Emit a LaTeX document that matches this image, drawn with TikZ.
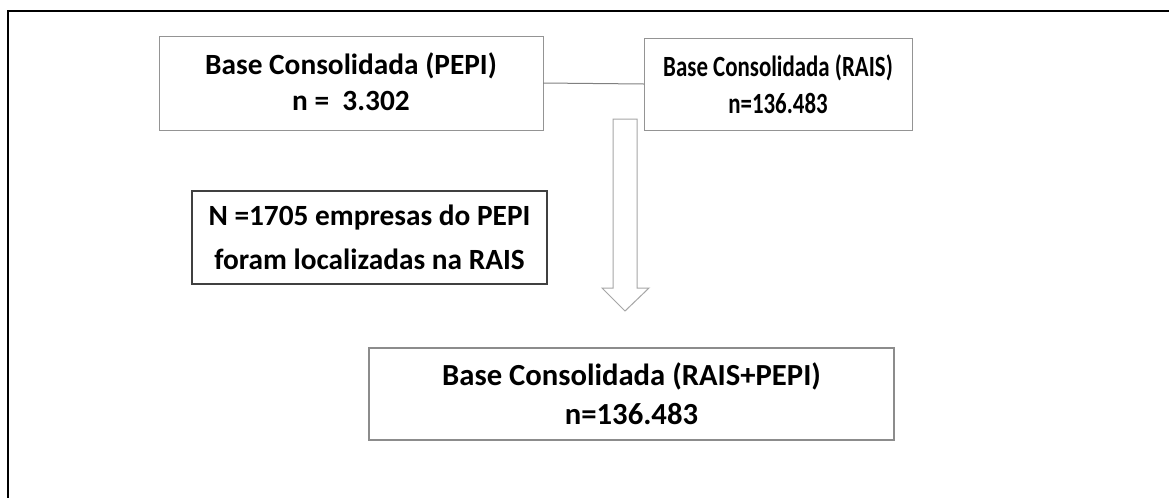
\documentclass[tikz,border=0pt]{standalone}
\usepackage{fontspec}
\usepackage{graphicx}
\setmainfont{Carlito}
\newcommand{\narrow}[1]{\scalebox{0.78}[1]{#1}}
\begin{document}
\begin{tikzpicture}[x=0.75pt,y=-0.75pt,
  every node/.style={inner sep=0pt, outer sep=0pt, align=center},
  graybox/.style={draw=black!42, line width=0.75pt},
  midbox/.style={draw=black!45, line width=1.1pt},
  darkbox/.style={draw=black!75, line width=1.5pt},
  link/.style={draw=black!50, line width=0.75pt},
  blockarrow/.style={draw=black!35, line width=0.75pt, fill=white}]
\clip (0,0) rectangle (1169,497);
\fill[white] (0,0) rectangle (1169,497);
\draw[line width=1.6pt] (8,520) -- (8,11) -- (1200,11);

\node[graybox, minimum width=384*0.75pt, minimum height=94*0.75pt,
  font=\bfseries\fontsize{22}{27}\selectfont] (pepi) at (351,83)
  {\raisebox{2pt}{Base Consolidada (PEPI)}\\\raisebox{2pt}{n =\ \ 3.302}};
\node[graybox, minimum width=268*0.75pt, minimum height=92*0.75pt,
  font=\bfseries\fontsize{22}{28}\selectfont] (rais) at (778,84)
  {\narrow{Base Consolidada (RAIS)}\\\narrow{n=136.483}};
\node[darkbox, minimum width=355*0.75pt, minimum height=93*0.75pt,
  font=\bfseries\fontsize{22}{33}\selectfont] (note) at (369.5,237.5)
  {N =1705 empresas do PEPI\\foram localizadas na RAIS};
\node[midbox, minimum width=525*0.75pt, minimum height=92*0.75pt,
  font=\bfseries\fontsize{23}{29.5}\selectfont] (merged) at (631.5,394)
  {Base Consolidada (RAIS+PEPI)\\n=136.483};

\draw[link] (pepi.east) -- (rais.west);

\coordinate (atop) at (625,119);
\coordinate (atip) at (625,311);
\draw[blockarrow] (613,119) -- (637,119) -- (637,288) -- (649,288) -- (atip)
  -- (602,288) -- (613,288) -- cycle;
\end{tikzpicture}
\end{document}
